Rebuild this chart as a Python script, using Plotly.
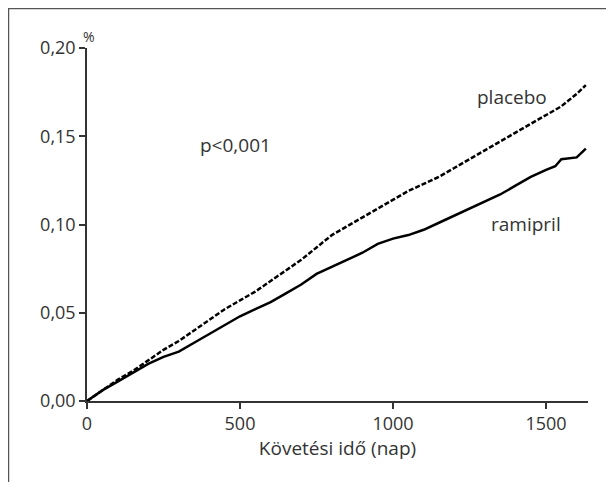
import plotly.graph_objects as go

days = [0, 50, 100, 150, 200, 250, 300, 350, 400, 450, 500, 550, 600, 650, 700, 750, 800,
        850, 900, 950, 1000, 1050, 1100, 1150, 1200, 1250, 1300, 1350, 1400, 1450, 1500,
        1530, 1550, 1600, 1630]
placebo = [0, 0.006, 0.012, 0.017, 0.023, 0.029, 0.034, 0.040, 0.046, 0.052, 0.057, 0.062,
           0.068, 0.074, 0.080, 0.087, 0.094, 0.099, 0.104, 0.109, 0.114, 0.119, 0.123,
           0.127, 0.132, 0.137, 0.142, 0.147, 0.152, 0.157, 0.162, 0.165, 0.167, 0.174, 0.179]
ramipril = [0, 0.006, 0.011, 0.016, 0.021, 0.025, 0.028, 0.033, 0.038, 0.043, 0.048, 0.052,
            0.056, 0.061, 0.066, 0.072, 0.076, 0.080, 0.084, 0.089, 0.092, 0.094, 0.097,
            0.101, 0.105, 0.109, 0.113, 0.117, 0.122, 0.127, 0.131, 0.133, 0.137, 0.138, 0.143]
x_ticks = [0, 500, 1000, 1500]
y_ticks = [0, 0.05, 0.10, 0.15, 0.20]

FONT = "Open Sans"
TXT = "#333333"

fig = go.Figure()
fig.add_trace(go.Scatter(x=days, y=placebo, mode="lines",
                         line=dict(color="black", width=2.5, dash="5px,2px")))
fig.add_trace(go.Scatter(x=days, y=ramipril, mode="lines",
                         line=dict(color="black", width=2.5)))

fig.update_layout(
    width=606, height=474,
    margin=dict(l=79, r=26, t=40, b=81),
    paper_bgcolor="white", plot_bgcolor="white",
    showlegend=False,
    separators=", ",
    font=dict(family=FONT, size=19, color=TXT),
    xaxis=dict(range=[0, 1637], tickvals=x_ticks, tickformat="d", showgrid=False,
               zeroline=False, showline=True, linecolor=TXT, linewidth=1.5,
               ticks="outside", ticklen=6, tickcolor=TXT, tickwidth=1.5,
               title=dict(text="Követési idő (nap)", standoff=2,
                          font=dict(size=19, family=FONT, color=TXT)),
               tickfont=dict(size=18, family=FONT, color=TXT)),
    yaxis=dict(range=[0, 0.2], tickvals=y_ticks, tickformat=".2f", showgrid=False,
               zeroline=False, showline=True, linecolor=TXT, linewidth=1.5,
               ticks="outside", ticklen=6, tickcolor=TXT, tickwidth=1.5,
               tickfont=dict(size=18, family=FONT, color=TXT)),
)

fig.add_annotation(x=0, y=1.0, xref="paper", yref="paper", text="%", showarrow=False,
                   xanchor="center", yanchor="bottom", yshift=0, xshift=2,
                   font=dict(size=14, family=FONT, color=TXT))
fig.add_annotation(x=1390, y=0.1725, text="placebo", showarrow=False,
                   font=dict(size=19, family=FONT, color=TXT))
fig.add_annotation(x=1435, y=0.1005, text="ramipril", showarrow=False,
                   font=dict(size=19, family=FONT, color=TXT))
fig.add_annotation(x=485, y=0.145, text="p<0,001", showarrow=False,
                   font=dict(size=19, family=FONT, color=TXT))

# frame lines of the page (top and left edges)
fig.add_shape(type="line", xref="paper", yref="paper", x0=-0.158, x1=1.06, y0=1.1118, y1=1.1118,
              line=dict(color="#555555", width=1.5))
fig.add_shape(type="line", xref="paper", yref="paper", x0=-0.1567, x1=-0.1567, y0=1.14, y1=-0.23,
              line=dict(color="#555555", width=1.5))

fig.write_html("out.html")
